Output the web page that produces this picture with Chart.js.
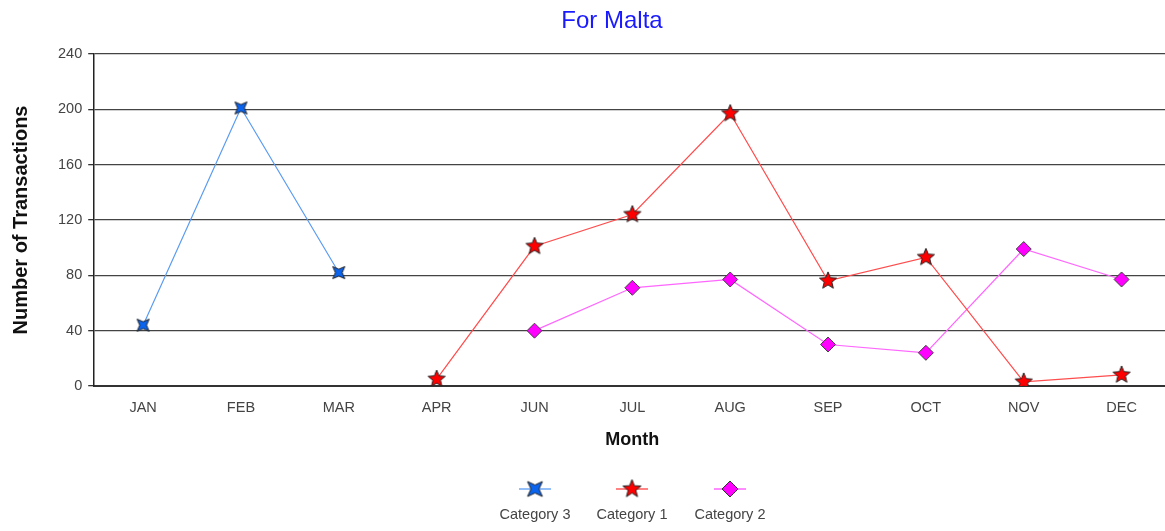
<!DOCTYPE html>
<html>
<head>
<meta charset="utf-8">
<script src="https://cdn.jsdelivr.net/npm/chart.js@4.4.1/dist/chart.umd.min.js"></script>
<style>
  html, body { margin: 0; padding: 0; background: #fff; overflow: hidden; }
  #wrap { width: 1179px; height: 531px; }
</style>
</head>
<body>
<div id="wrap"><canvas id="maltaChart"></canvas></div>
<script>
// Data
const months = ['JAN', 'FEB', 'MAR', 'APR', 'JUN', 'JUL', 'AUG', 'SEP', 'OCT', 'NOV', 'DEC'];
const category3 = [44, 201, 82, null, null, null, null, null, null, null, null];
const category1 = [null, null, null, 5, 101, 124, 197, 76, 93, 3, 8];
const category2 = [null, null, null, null, 40, 71, 77, 30, 24, 99, 77];
const yTicks = [0, 40, 80, 120, 160, 200, 240];

// Marker images
function starCanvas(points, outer, inner, fill) {
    const size = Math.ceil(outer * 2 + 2);
    const c = document.createElement('canvas');
    c.width = size; c.height = size;
    const g = c.getContext('2d');
    const cx = size / 2, cy = size / 2;
    g.beginPath();
    for (let i = 0; i < points * 2; i++) {
        const r = i % 2 === 0 ? outer : inner;
        const a = -Math.PI / 2 + (i * Math.PI) / points + (points === 4 ? Math.PI / 4 : 0);
        const x = cx + r * Math.cos(a), y = cy + r * Math.sin(a);
        if (i === 0) g.moveTo(x, y); else g.lineTo(x, y);
    }
    g.closePath();
    g.fillStyle = fill;
    g.fill();
    g.strokeStyle = '#222';
    g.lineWidth = 1;
    g.stroke();
    return c;
}

const blueStar = starCanvas(4, 8.5, 3.4, '#0a64f0');
const redStar = starCanvas(5, 9, 4, '#ff0000');
const blueStarBig = starCanvas(4, 10.5, 4, '#0a64f0');
const redStarBig = starCanvas(5, 9.5, 4, '#ff0000');

// Title (a bit right of canvas centre, as in the original) and the legend under "Month"
const decorations = {
    id: 'decorations',
    afterDraw(chart) {
        const ctx = chart.ctx;
        ctx.save();
        ctx.fillStyle = '#1a1aff';
        ctx.font = '24px "Liberation Sans", Arial, sans-serif';
        ctx.textAlign = 'center';
        ctx.textBaseline = 'alphabetic';
        ctx.fillText('For Malta', 612, 28);

        const centers = [535, 632, 730];
        const lineColors = ['#6fa8f5', '#ff5a5a', '#ff66ff'];
        const labels = ['Category 3', 'Category 1', 'Category 2'];
        const my = 489;
        centers.forEach((x, i) => {
            ctx.strokeStyle = lineColors[i];
            ctx.lineWidth = 1.5;
            ctx.beginPath();
            ctx.moveTo(x - 16, my);
            ctx.lineTo(x + 16, my);
            ctx.stroke();
            if (i === 0) ctx.drawImage(blueStarBig, x - blueStarBig.width / 2, my - blueStarBig.height / 2);
            if (i === 1) ctx.drawImage(redStarBig, x - redStarBig.width / 2, my - redStarBig.height / 2);
            if (i === 2) {
                ctx.beginPath();
                ctx.moveTo(x, my - 8);
                ctx.lineTo(x + 8, my);
                ctx.lineTo(x, my + 8);
                ctx.lineTo(x - 8, my);
                ctx.closePath();
                ctx.fillStyle = '#ff00ff';
                ctx.fill();
                ctx.strokeStyle = '#333';
                ctx.lineWidth = 1;
                ctx.stroke();
            }
            ctx.fillStyle = '#444';
            ctx.font = '14.5px "Liberation Sans", Arial, sans-serif';
            ctx.textAlign = 'center';
            ctx.textBaseline = 'middle';
            ctx.fillText(labels[i], x, 515);
        });
        ctx.restore();
    }
};

const ctx = document.getElementById('maltaChart').getContext('2d');
new Chart(ctx, {
    type: 'line',
    data: {
        labels: months,
        datasets: [{
            label: 'Category 3',
            data: category3,
            borderColor: '#5b9cf2',
            borderWidth: 1.2,
            pointStyle: blueStar,
            tension: 0
        }, {
            label: 'Category 1',
            data: category1,
            borderColor: '#ff4d4d',
            borderWidth: 1.2,
            pointStyle: redStar,
            tension: 0
        }, {
            label: 'Category 2',
            data: category2,
            borderColor: '#ff66ff',
            borderWidth: 1.2,
            pointStyle: 'rectRot',
            pointRadius: 7.5,
            pointBackgroundColor: '#ff00ff',
            pointBorderColor: '#444',
            pointBorderWidth: 1,
            tension: 0
        }]
    },
    options: {
        responsive: true,
        maintainAspectRatio: false,
        animation: false,
        spanGaps: false,
        layout: { padding: { top: 54, right: 0, bottom: 76, left: 5 } },
        plugins: {
            legend: { display: false },
            tooltip: { enabled: false },
            title: { display: false }
        },
        scales: {
            x: {
                offset: true,
                grid: { display: false, drawTicks: false },
                border: { color: '#333', width: 2 },
                ticks: {
                    color: '#444',
                    font: { family: '"Liberation Sans", Arial, sans-serif', size: 14.5 },
                    padding: 13
                },
                title: {
                    display: true,
                    text: 'Month',
                    color: '#111',
                    font: { family: '"Liberation Sans", Arial, sans-serif', size: 18, weight: 'bold' },
                    padding: { top: 0 }
                }
            },
            y: {
                min: 0,
                max: 240,
                afterBuildTicks(axis) {
                    axis.ticks = yTicks.map(v => ({ value: v }));
                },
                grid: { color: '#444', lineWidth: 1.3, tickLength: 6, tickColor: '#333' },
                border: { color: '#222', width: 1.5 },
                ticks: {
                    color: '#444',
                    font: { family: '"Liberation Sans", Arial, sans-serif', size: 14.5 },
                    padding: 6
                },
                title: {
                    display: true,
                    text: 'Number of Transactions',
                    color: '#111',
                    font: { family: '"Liberation Sans", Arial, sans-serif', size: 20, weight: 'bold' },
                    padding: { top: 4, bottom: 19 }
                }
            }
        }
    },
    plugins: [decorations]
});
</script>
</body>
</html>
